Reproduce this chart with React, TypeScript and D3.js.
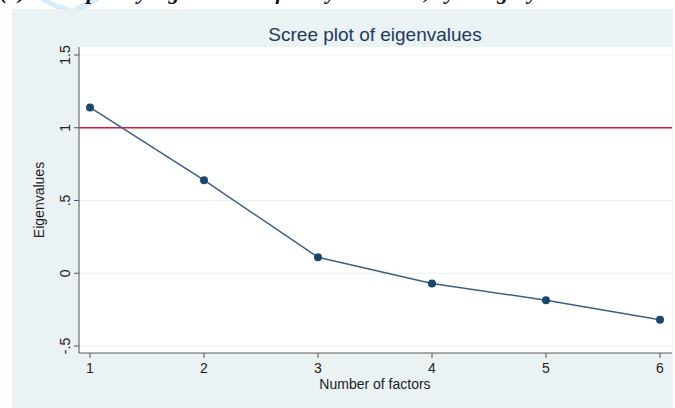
import React from 'react';
import * as d3 from 'd3';

const factors = [1, 2, 3, 4, 5, 6];
const eigenvalues = [1.14, 0.64, 0.11, -0.07, -0.185, -0.32];
const yTicks = [-0.5, 0, 0.5, 1, 1.5];
const yTickLabels = ['-.5', '0', '.5', '1', '1.5'];
const referenceLine = 1;

const W = 675;
const H = 408;
const font = '"Liberation Sans", Arial, sans-serif';

const App = () => {
  const x = d3.scaleLinear().domain([1, 6]).range([90, 660]);
  const y = d3.scaleLinear().domain([-0.5, 1.5]).range([346, 55]);

  const line = d3.line<number>()
    .x((d, i) => x(factors[i]))
    .y(d => y(d));

  const plotLeft = 79;
  const plotRight = 672;
  const plotTop = 47;
  const plotBottom = 353;

  return (
    <svg width={W} height={H} style={{ position: 'absolute', left: 0, top: 0, background: '#fff' }}>
      {/* watermark fragment and cut-off caption from the page above */}
      <path d="M48,0 L72,9 L88,0 L100,0 L80,12 L62,12 L40,0 Z" fill="#d6ecfa" />
      <text x={0} y={-1} fontFamily="'Liberation Serif', serif" fontStyle="italic" fontWeight="bold"
        fontSize={22} fill="#111">(b) Scree plot by eigenvalues of study variables, by category</text>

      {/* graph region */}
      <rect x={12} y={9} width={661} height={H - 9} fill="#eaf2f3" />
      <rect x={plotLeft} y={plotTop} width={plotRight - plotLeft} height={plotBottom - plotTop} fill="#fff" />

      <text x={375} y={41} textAnchor="middle" fontFamily={font} fontSize={19} fill="#1e3a5f">
        Scree plot of eigenvalues
      </text>

      {/* grid lines */}
      {yTicks.map(t => (
        <line key={'g' + t} x1={plotLeft} x2={plotRight} y1={y(t)} y2={y(t)} stroke="#eaf2f3" strokeWidth={1} />
      ))}

      {/* reference line */}
      <line x1={plotLeft} x2={plotRight} y1={y(referenceLine)} y2={y(referenceLine)} stroke="#d7193f" strokeWidth={1.3} />

      {/* series */}
      <path d={line(eigenvalues) || ''} fill="none" stroke="#3a5f8a" strokeWidth={1.5} />
      {eigenvalues.map((v, i) => (
        <circle key={i} cx={x(factors[i])} cy={y(v)} r={4} fill="#1a476f" />
      ))}

      {/* y axis */}
      <line x1={plotLeft} x2={plotLeft} y1={plotTop} y2={plotBottom} stroke="#555" strokeWidth={1} />
      {yTicks.map((t, i) => (
        <g key={'y' + t}>
          <line x1={plotLeft - 5} x2={plotLeft} y1={y(t)} y2={y(t)} stroke="#555" />
          <text transform={`translate(${plotLeft - 9},${y(t)}) rotate(-90)`} textAnchor="middle"
            fontFamily={font} fontSize={14} fill="#222">{yTickLabels[i]}</text>
        </g>
      ))}
      <text transform={`translate(44,${(plotTop + plotBottom) / 2}) rotate(-90)`} textAnchor="middle"
        fontFamily={font} fontSize={14} fill="#222">Eigenvalues</text>

      {/* x axis */}
      <line x1={plotLeft} x2={plotRight} y1={plotBottom} y2={plotBottom} stroke="#555" strokeWidth={1} />
      {factors.map(f => (
        <g key={'x' + f}>
          <line x1={x(f)} x2={x(f)} y1={plotBottom} y2={plotBottom + 5} stroke="#555" />
          <text x={x(f)} y={plotBottom + 20} textAnchor="middle" fontFamily={font} fontSize={14} fill="#222">{f}</text>
        </g>
      ))}
      <text x={375} y={389} textAnchor="middle" fontFamily={font} fontSize={14} fill="#222">Number of factors</text>
    </svg>
  );
};

export default App;
